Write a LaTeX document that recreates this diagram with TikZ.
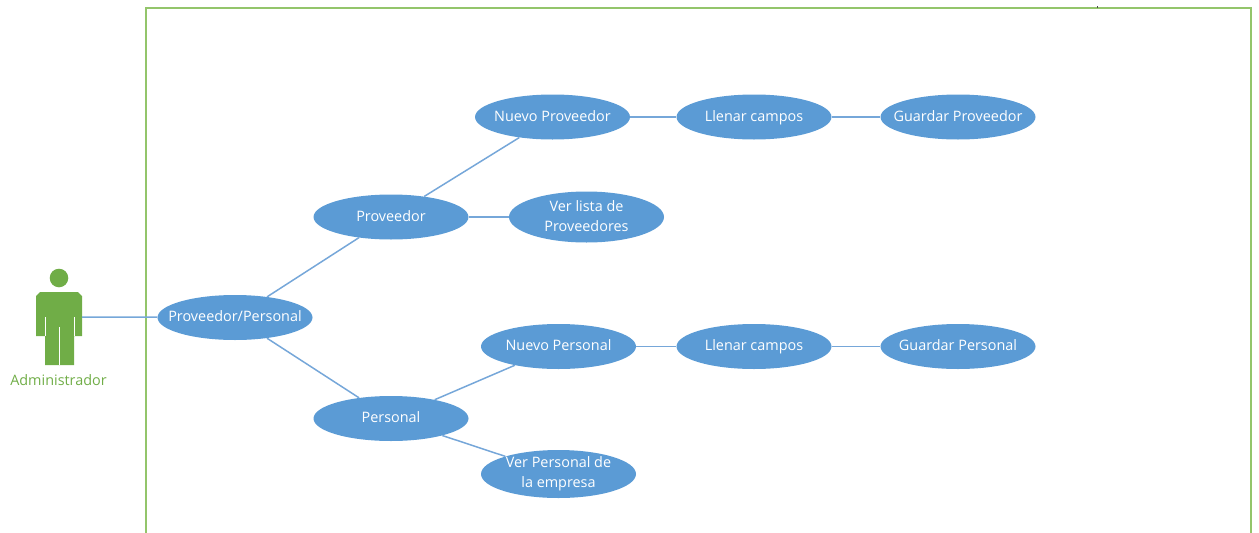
\documentclass[tikz,border=0pt]{standalone}
\usepackage{fontspec}
\setmainfont{Open Sans}
\usetikzlibrary{shapes.geometric}
\definecolor{caseblue}{HTML}{5B9BD5}
\definecolor{linkblue}{HTML}{76A7D9}
\definecolor{actorgreen}{HTML}{70AD47}
\definecolor{boxgreen}{HTML}{93C56B}

\begin{document}
\begin{tikzpicture}[x=1pt,y=-1pt,
    usecase/.style={ellipse,fill=caseblue,inner sep=0pt,minimum width=155pt,minimum height=45pt},
    casetext/.style={text=white,font=\fontsize{14.4}{20}\selectfont,align=center,execute at begin node=\strut,execute at end node=\strut},
    link/.style={draw=linkblue,line width=1.5pt}]
    \useasboundingbox (0,0) rectangle (1259,533);
    \draw[boxgreen,line width=1.3pt] (146,533) -- (146,8) -- (1251,8) -- (1251,533);
    \fill[black!70] (1096.5,5.5) rectangle (1098,7.5);

    % actor
    \fill[actorgreen] (59,278) circle (9.3);
    \fill[actorgreen] (36,336) -- (36,296) -- (40,292) -- (78,292) -- (82,296) -- (82,336) -- (74,336) -- (74,365) -- (45,365) -- (45,336) -- cycle;
    \draw[white,line width=1pt] (45,317) -- (45,336) (74,317) -- (74,336) (59,327) -- (59,365);
    \coordinate (hand) at (82,317);
    \node[text=actorgreen,font=\fontsize{14.4}{16}\selectfont] (admin) at (58.5,380) {Administrador};

    \node[usecase,label={[casetext]center:Proveedor/Personal}] (provpers) at (235,317.5) {};
    \node[usecase,label={[casetext]center:Proveedor}] (prov) at (391,217) {};
    \node[usecase,label={[casetext]center:Personal}] (pers) at (391,418.5) {};
    \node[usecase,label={[casetext]center:Nuevo Proveedor}] (newprov) at (552.5,117) {};
    \node[usecase,minimum height=51pt,label={[casetext,yshift=-2pt]center:Ver lista de\\Proveedores}] (listprov) at (586.5,217) {};
    \node[usecase,label={[casetext]center:Nuevo Personal}] (newpers) at (558.5,346.5) {};
    \node[usecase,minimum height=48pt,label={[casetext,yshift=-1pt]center:Ver Personal de\\la empresa}] (listpers) at (558.5,474) {};
    \node[usecase,label={[casetext]center:Llenar campos}] (fillprov) at (754,117) {};
    \node[usecase,label={[casetext]center:Llenar campos}] (fillpers) at (754,346.5) {};
    \node[usecase,label={[casetext]center:Guardar Proveedor}] (saveprov) at (958,117) {};
    \node[usecase,label={[casetext]center:Guardar Personal}] (savepers) at (958,346.5) {};

    \draw[link] (hand) -- (provpers);
    \draw[link] (provpers) -- (prov);
    \draw[link] (provpers) -- (pers);
    \draw[link] (prov) -- (newprov);
    \draw[link] (prov) -- (listprov);
    \draw[link] (pers) -- (newpers);
    \draw[link] (pers) -- (listpers);
    \draw[link] (newprov) -- (fillprov);
    \draw[link] (fillprov) -- (saveprov);
    \draw[link] (newpers) -- (fillpers);
    \draw[link] (fillpers) -- (savepers);
  \end{tikzpicture}
\end{document}
